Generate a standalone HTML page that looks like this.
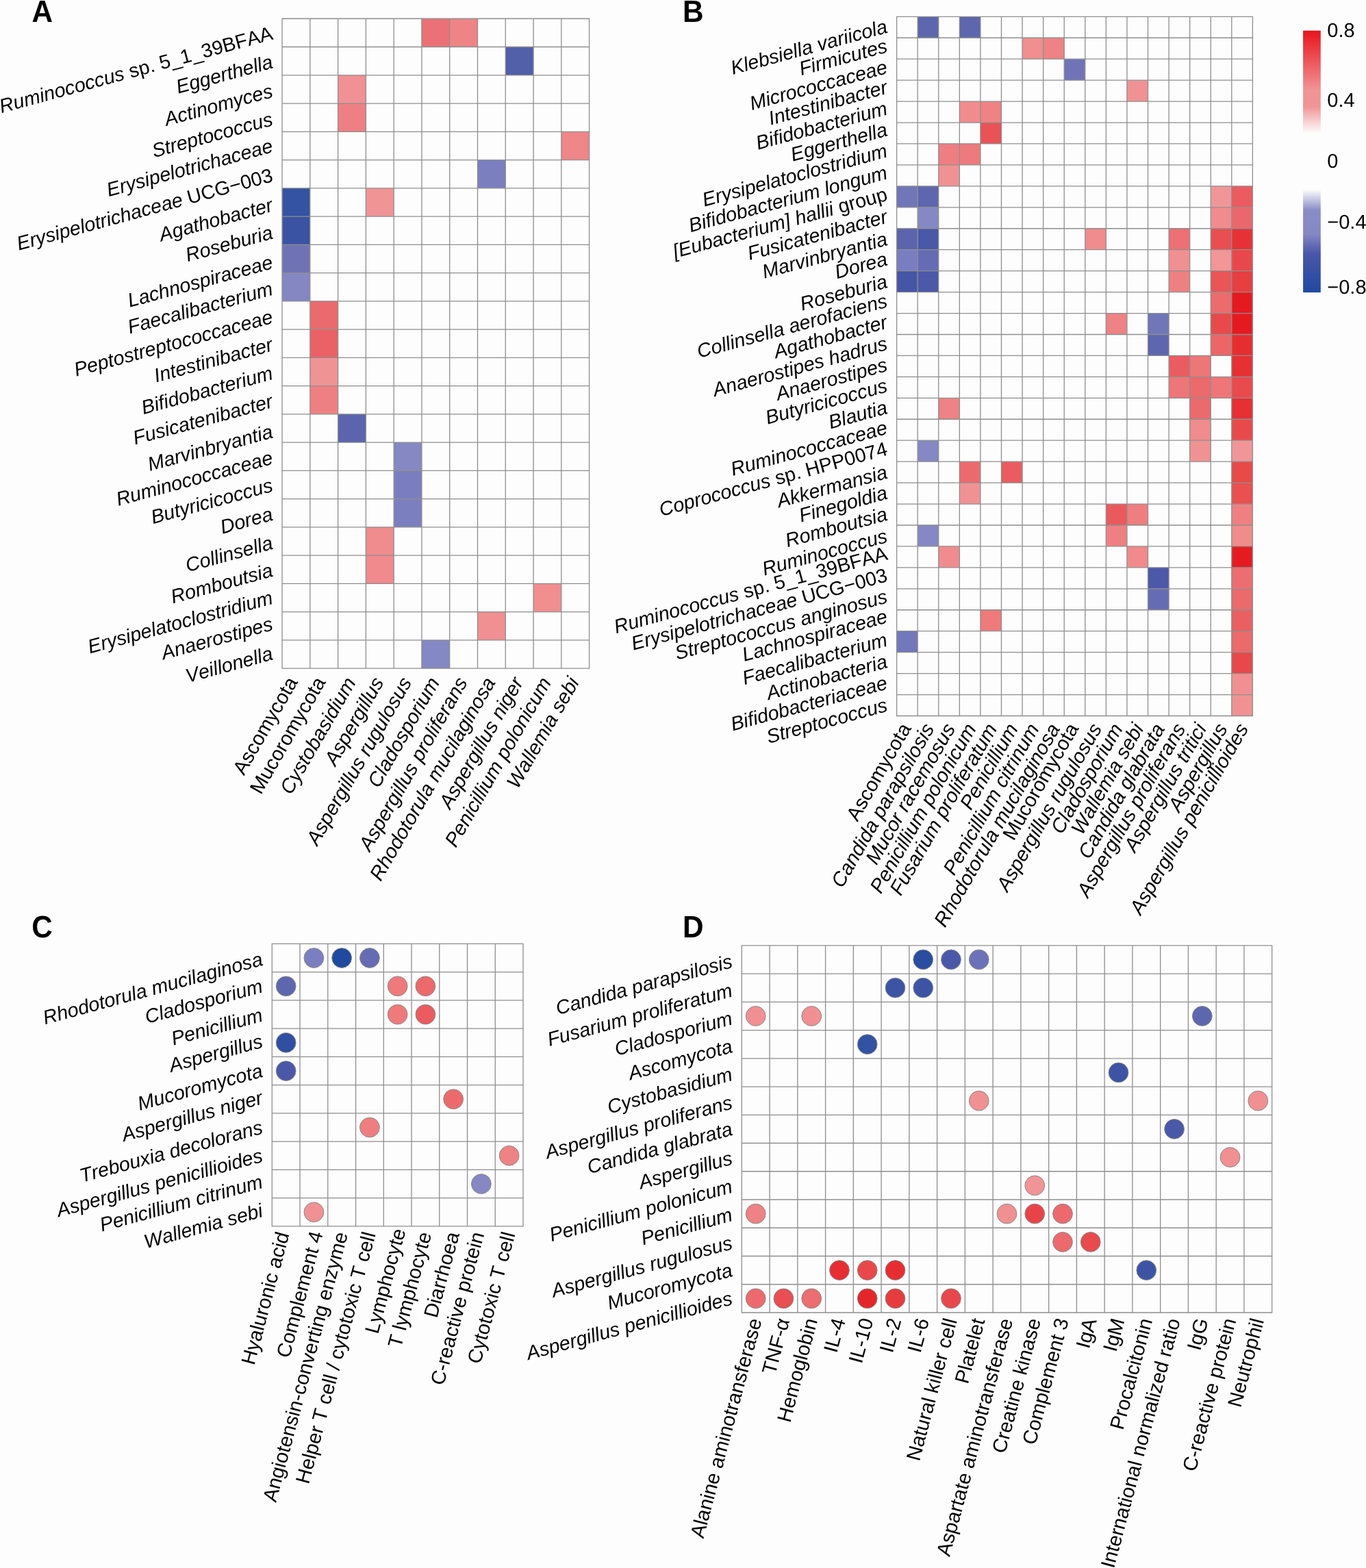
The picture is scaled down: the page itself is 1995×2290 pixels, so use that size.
<!DOCTYPE html>
<html lang="en">
<head>
<meta charset="utf-8">
<title>Correlation heatmaps between gut bacteria, fungi and clinical indices</title>
<style>
html,body{margin:0;padding:0;background:#fdfdfd;}
body{width:1995px;height:2290px;overflow:hidden;}
svg{display:block;}
svg text{font-family:"Liberation Sans",Arial,Helvetica,sans-serif;fill:#000;font-kerning:none;text-rendering:geometricPrecision;}
</style>
</head>
<body>
<svg xmlns="http://www.w3.org/2000/svg" width="1995" height="2290" viewBox="0 0 1995 2290">
<rect x="0" y="0" width="1995" height="2290" fill="#fdfdfd"/>
<g id="panel-A">
<rect x="615.94" y="27.26" width="40.78" height="41.26" fill="#ec7176"/>
<rect x="656.71" y="27.26" width="40.78" height="41.26" fill="#ef8486"/>
<rect x="738.27" y="68.52" width="40.78" height="41.26" fill="#525fa9"/>
<rect x="493.60" y="109.78" width="40.78" height="41.26" fill="#f09193"/>
<rect x="493.60" y="151.03" width="40.78" height="41.26" fill="#ee8083"/>
<rect x="819.82" y="192.29" width="40.78" height="41.26" fill="#ef8688"/>
<rect x="697.49" y="233.55" width="40.78" height="41.26" fill="#7b7fc0"/>
<rect x="412.05" y="274.81" width="40.78" height="41.26" fill="#3553a3"/>
<rect x="534.38" y="274.81" width="40.78" height="41.26" fill="#f09496"/>
<rect x="412.05" y="316.07" width="40.78" height="41.26" fill="#3b53a3"/>
<rect x="412.05" y="357.33" width="40.78" height="41.26" fill="#6f73b6"/>
<rect x="412.05" y="398.58" width="40.78" height="41.26" fill="#8487c2"/>
<rect x="452.83" y="439.84" width="40.78" height="41.26" fill="#ea6a6e"/>
<rect x="452.83" y="481.10" width="40.78" height="41.26" fill="#ea6166"/>
<rect x="452.83" y="522.36" width="40.78" height="41.26" fill="#f09395"/>
<rect x="452.83" y="563.62" width="40.78" height="41.26" fill="#ee8083"/>
<rect x="493.60" y="604.88" width="40.78" height="41.26" fill="#5b64ad"/>
<rect x="575.16" y="646.13" width="40.78" height="41.26" fill="#8588c3"/>
<rect x="575.16" y="687.39" width="40.78" height="41.26" fill="#7a7ec0"/>
<rect x="575.16" y="728.65" width="40.78" height="41.26" fill="#7b7fc0"/>
<rect x="534.38" y="769.91" width="40.78" height="41.26" fill="#f08c8e"/>
<rect x="534.38" y="811.17" width="40.78" height="41.26" fill="#f08a8c"/>
<rect x="779.05" y="852.43" width="40.78" height="41.26" fill="#f08e90"/>
<rect x="697.49" y="893.68" width="40.78" height="41.26" fill="#f09092"/>
<rect x="615.94" y="934.94" width="40.78" height="41.26" fill="#8488c4"/>
<path d="M412.05 27.26V976.20M452.83 27.26V976.20M493.60 27.26V976.20M534.38 27.26V976.20M575.16 27.26V976.20M615.94 27.26V976.20M656.71 27.26V976.20M697.49 27.26V976.20M738.27 27.26V976.20M779.05 27.26V976.20M819.82 27.26V976.20M860.60 27.26V976.20M412.05 27.26H860.60M412.05 68.52H860.60M412.05 109.78H860.60M412.05 151.03H860.60M412.05 192.29H860.60M412.05 233.55H860.60M412.05 274.81H860.60M412.05 316.07H860.60M412.05 357.33H860.60M412.05 398.58H860.60M412.05 439.84H860.60M412.05 481.10H860.60M412.05 522.36H860.60M412.05 563.62H860.60M412.05 604.88H860.60M412.05 646.13H860.60M412.05 687.39H860.60M412.05 728.65H860.60M412.05 769.91H860.60M412.05 811.17H860.60M412.05 852.43H860.60M412.05 893.68H860.60M412.05 934.94H860.60M412.05 976.20H860.60" fill="none" stroke="#8e8e8e" stroke-width="1.3" stroke-linecap="square"/>
<text transform="matrix(0.96502 -0.26219 0.26219 0.96502 397.55 47.99)" text-anchor="end" x="0.00" y="9.50" font-size="28.65" xml:space="preserve"><tspan font-style="italic">Ruminococcus</tspan><tspan> sp. 5_1_39BFAA</tspan></text>
<text transform="matrix(0.96502 -0.26219 0.26219 0.96502 397.55 89.65)" text-anchor="end" x="0.00" y="9.50" font-size="28.65" font-style="italic">Eggerthella</text>
<text transform="matrix(0.96502 -0.26219 0.26219 0.96502 397.55 132.21)" text-anchor="end" x="0.00" y="9.50" font-size="28.65" font-style="italic">Actinomyces</text>
<text transform="matrix(0.96502 -0.26219 0.26219 0.96502 397.55 173.46)" text-anchor="end" x="0.00" y="9.50" font-size="28.65" font-style="italic">Streptococcus</text>
<text transform="matrix(0.96502 -0.26219 0.26219 0.96502 397.55 212.52)" text-anchor="end" x="0.00" y="9.50" font-size="28.65" font-style="italic">Erysipelotrichaceae</text>
<text transform="matrix(0.96502 -0.26219 0.26219 0.96502 397.55 255.38)" text-anchor="end" x="0.00" y="9.50" font-size="28.65" xml:space="preserve"><tspan font-style="italic">Erysipelotrichaceae</tspan><tspan> UCG−003</tspan></text>
<text transform="matrix(0.96502 -0.26219 0.26219 0.96502 397.55 298.84)" text-anchor="end" x="0.00" y="9.50" font-size="28.65" font-style="italic">Agathobacter</text>
<text transform="matrix(0.96502 -0.26219 0.26219 0.96502 397.55 338.90)" text-anchor="end" x="0.00" y="9.50" font-size="28.65" font-style="italic">Roseburia</text>
<text transform="matrix(0.96502 -0.26219 0.26219 0.96502 397.55 382.46)" text-anchor="end" x="0.00" y="9.50" font-size="28.65" font-style="italic">Lachnospiraceae</text>
<text transform="matrix(0.96502 -0.26219 0.26219 0.96502 397.55 421.11)" text-anchor="end" x="0.00" y="9.50" font-size="28.65" font-style="italic">Faecalibacterium</text>
<text transform="matrix(0.96502 -0.26219 0.26219 0.96502 397.55 462.17)" text-anchor="end" x="0.00" y="9.50" font-size="28.65" font-style="italic">Peptostreptococcaceae</text>
<text transform="matrix(0.96502 -0.26219 0.26219 0.96502 397.55 502.63)" text-anchor="end" x="0.00" y="9.50" font-size="28.65" font-style="italic">Intestinibacter</text>
<text transform="matrix(0.96502 -0.26219 0.26219 0.96502 397.55 544.29)" text-anchor="end" x="0.00" y="9.50" font-size="28.65" font-style="italic">Bifidobacterium</text>
<text transform="matrix(0.96502 -0.26219 0.26219 0.96502 397.55 585.35)" text-anchor="end" x="0.00" y="9.50" font-size="28.65" font-style="italic">Fusicatenibacter</text>
<text transform="matrix(0.96502 -0.26219 0.26219 0.96502 397.55 629.60)" text-anchor="end" x="0.00" y="9.50" font-size="28.65" font-style="italic">Marvinbryantia</text>
<text transform="matrix(0.96502 -0.26219 0.26219 0.96502 397.55 667.96)" text-anchor="end" x="0.00" y="9.50" font-size="28.65" font-style="italic">Ruminococcaceae</text>
<text transform="matrix(0.96502 -0.26219 0.26219 0.96502 397.55 708.02)" text-anchor="end" x="0.00" y="9.50" font-size="28.65" font-style="italic">Butyricicoccus</text>
<text transform="matrix(0.96502 -0.26219 0.26219 0.96502 397.55 750.08)" text-anchor="end" x="0.00" y="9.50" font-size="28.65" font-style="italic">Dorea</text>
<text transform="matrix(0.96502 -0.26219 0.26219 0.96502 397.55 792.14)" text-anchor="end" x="0.00" y="9.50" font-size="28.65" font-style="italic">Collinsella</text>
<text transform="matrix(0.96502 -0.26219 0.26219 0.96502 397.55 832.20)" text-anchor="end" x="0.00" y="9.50" font-size="28.65" font-style="italic">Romboutsia</text>
<text transform="matrix(0.96502 -0.26219 0.26219 0.96502 397.55 872.25)" text-anchor="end" x="0.00" y="9.50" font-size="28.65" font-style="italic">Erysipelatoclostridium</text>
<text transform="matrix(0.96502 -0.26219 0.26219 0.96502 397.55 910.51)" text-anchor="end" x="0.00" y="9.50" font-size="28.65" font-style="italic">Anaerostipes</text>
<text transform="matrix(0.96502 -0.26219 0.26219 0.96502 397.55 953.77)" text-anchor="end" x="0.00" y="9.50" font-size="28.65" font-style="italic">Veillonella</text>
<text transform="matrix(0.50000 -0.86603 0.86603 0.50000 427.44 991.20)" text-anchor="end" x="0.00" y="9.50" font-size="29.15">Ascomycota</text>
<text transform="matrix(0.50000 -0.86603 0.86603 0.50000 468.22 991.20)" text-anchor="end" x="0.00" y="9.50" font-size="29.15">Mucoromycota</text>
<text transform="matrix(0.50000 -0.86603 0.86603 0.50000 512.29 991.70)" text-anchor="end" x="0.00" y="9.50" font-size="29.15" font-style="italic">Cystobasidium</text>
<text transform="matrix(0.50000 -0.86603 0.86603 0.50000 553.07 991.70)" text-anchor="end" x="0.00" y="9.50" font-size="29.15" font-style="italic">Aspergillus</text>
<text transform="matrix(0.50000 -0.86603 0.86603 0.50000 593.85 991.70)" text-anchor="end" x="0.00" y="9.50" font-size="29.15" font-style="italic">Aspergillus rugulosus</text>
<text transform="matrix(0.50000 -0.86603 0.86603 0.50000 634.62 991.70)" text-anchor="end" x="0.00" y="9.50" font-size="29.15" font-style="italic">Cladosporium</text>
<text transform="matrix(0.50000 -0.86603 0.86603 0.50000 675.40 991.70)" text-anchor="end" x="0.00" y="9.50" font-size="29.15" font-style="italic">Aspergillus proliferans</text>
<text transform="matrix(0.50000 -0.86603 0.86603 0.50000 716.18 991.70)" text-anchor="end" x="0.00" y="9.50" font-size="29.15" font-style="italic">Rhodotorula mucilaginosa</text>
<text transform="matrix(0.50000 -0.86603 0.86603 0.50000 756.96 991.70)" text-anchor="end" x="0.00" y="9.50" font-size="29.15" font-style="italic">Aspergillus niger</text>
<text transform="matrix(0.50000 -0.86603 0.86603 0.50000 797.73 991.70)" text-anchor="end" x="0.00" y="9.50" font-size="29.15" font-style="italic">Penicillium polonicum</text>
<text transform="matrix(0.50000 -0.86603 0.86603 0.50000 838.51 991.70)" text-anchor="end" x="0.00" y="9.50" font-size="29.15" font-style="italic">Wallemia sebi</text>
</g>
<g id="panel-B">
<rect x="1340.18" y="24.30" width="30.58" height="30.95" fill="#5e66ae"/>
<rect x="1401.33" y="24.30" width="30.58" height="30.95" fill="#5e66ae"/>
<rect x="1493.06" y="55.25" width="30.58" height="30.95" fill="#f08e90"/>
<rect x="1523.64" y="55.25" width="30.58" height="30.95" fill="#ee8284"/>
<rect x="1554.21" y="86.19" width="30.58" height="30.95" fill="#6f74b8"/>
<rect x="1645.94" y="117.14" width="30.58" height="30.95" fill="#f09294"/>
<rect x="1401.33" y="148.08" width="30.58" height="30.95" fill="#f08c8e"/>
<rect x="1431.91" y="148.08" width="30.58" height="30.95" fill="#ee8284"/>
<rect x="1431.91" y="179.03" width="30.58" height="30.95" fill="#e95256"/>
<rect x="1370.75" y="209.97" width="30.58" height="30.95" fill="#ee7e81"/>
<rect x="1401.33" y="209.97" width="30.58" height="30.95" fill="#ed7a7d"/>
<rect x="1370.75" y="240.92" width="30.58" height="30.95" fill="#f09294"/>
<rect x="1309.60" y="271.86" width="30.58" height="30.95" fill="#7176b8"/>
<rect x="1340.18" y="271.86" width="30.58" height="30.95" fill="#5e66ae"/>
<rect x="1768.25" y="271.86" width="30.58" height="30.95" fill="#f19698"/>
<rect x="1798.82" y="271.86" width="30.58" height="30.95" fill="#ea5c60"/>
<rect x="1340.18" y="302.81" width="30.58" height="30.95" fill="#8588c3"/>
<rect x="1768.25" y="302.81" width="30.58" height="30.95" fill="#f08c8e"/>
<rect x="1798.82" y="302.81" width="30.58" height="30.95" fill="#ea686c"/>
<rect x="1309.60" y="333.75" width="30.58" height="30.95" fill="#5c64ae"/>
<rect x="1340.18" y="333.75" width="30.58" height="30.95" fill="#4a58a8"/>
<rect x="1584.79" y="333.75" width="30.58" height="30.95" fill="#f08c8e"/>
<rect x="1707.09" y="333.75" width="30.58" height="30.95" fill="#ec7074"/>
<rect x="1768.25" y="333.75" width="30.58" height="30.95" fill="#e94e52"/>
<rect x="1798.82" y="333.75" width="30.58" height="30.95" fill="#e63236"/>
<rect x="1309.60" y="364.70" width="30.58" height="30.95" fill="#7a7ec0"/>
<rect x="1340.18" y="364.70" width="30.58" height="30.95" fill="#666cb4"/>
<rect x="1707.09" y="364.70" width="30.58" height="30.95" fill="#f09092"/>
<rect x="1768.25" y="364.70" width="30.58" height="30.95" fill="#f29698"/>
<rect x="1798.82" y="364.70" width="30.58" height="30.95" fill="#e8484c"/>
<rect x="1309.60" y="395.65" width="30.58" height="30.95" fill="#4556a6"/>
<rect x="1340.18" y="395.65" width="30.58" height="30.95" fill="#4c58a8"/>
<rect x="1707.09" y="395.65" width="30.58" height="30.95" fill="#ee8082"/>
<rect x="1768.25" y="395.65" width="30.58" height="30.95" fill="#ea5558"/>
<rect x="1798.82" y="395.65" width="30.58" height="30.95" fill="#e73e40"/>
<rect x="1768.25" y="426.59" width="30.58" height="30.95" fill="#ec6c6e"/>
<rect x="1798.82" y="426.59" width="30.58" height="30.95" fill="#e41a20"/>
<rect x="1615.36" y="457.54" width="30.58" height="30.95" fill="#ee8284"/>
<rect x="1676.52" y="457.54" width="30.58" height="30.95" fill="#7176b8"/>
<rect x="1768.25" y="457.54" width="30.58" height="30.95" fill="#e84a4c"/>
<rect x="1798.82" y="457.54" width="30.58" height="30.95" fill="#e41a20"/>
<rect x="1676.52" y="488.48" width="30.58" height="30.95" fill="#5e66ae"/>
<rect x="1768.25" y="488.48" width="30.58" height="30.95" fill="#ec6668"/>
<rect x="1798.82" y="488.48" width="30.58" height="30.95" fill="#e62e30"/>
<rect x="1707.09" y="519.43" width="30.58" height="30.95" fill="#ea5c60"/>
<rect x="1737.67" y="519.43" width="30.58" height="30.95" fill="#ed7678"/>
<rect x="1798.82" y="519.43" width="30.58" height="30.95" fill="#e63034"/>
<rect x="1707.09" y="550.37" width="30.58" height="30.95" fill="#ed7678"/>
<rect x="1737.67" y="550.37" width="30.58" height="30.95" fill="#eb6a6c"/>
<rect x="1768.25" y="550.37" width="30.58" height="30.95" fill="#ee7678"/>
<rect x="1798.82" y="550.37" width="30.58" height="30.95" fill="#e84a4e"/>
<rect x="1370.75" y="581.32" width="30.58" height="30.95" fill="#ee8284"/>
<rect x="1737.67" y="581.32" width="30.58" height="30.95" fill="#eb6a6c"/>
<rect x="1798.82" y="581.32" width="30.58" height="30.95" fill="#e63034"/>
<rect x="1737.67" y="612.26" width="30.58" height="30.95" fill="#f08c8e"/>
<rect x="1798.82" y="612.26" width="30.58" height="30.95" fill="#e84a4c"/>
<rect x="1340.18" y="643.21" width="30.58" height="30.95" fill="#8588c3"/>
<rect x="1737.67" y="643.21" width="30.58" height="30.95" fill="#f09294"/>
<rect x="1798.82" y="643.21" width="30.58" height="30.95" fill="#f19698"/>
<rect x="1401.33" y="674.15" width="30.58" height="30.95" fill="#ec6a6e"/>
<rect x="1462.48" y="674.15" width="30.58" height="30.95" fill="#ea5c60"/>
<rect x="1798.82" y="674.15" width="30.58" height="30.95" fill="#e84a48"/>
<rect x="1401.33" y="705.10" width="30.58" height="30.95" fill="#f09294"/>
<rect x="1798.82" y="705.10" width="30.58" height="30.95" fill="#e9504f"/>
<rect x="1615.36" y="736.05" width="30.58" height="30.95" fill="#ea5a5c"/>
<rect x="1645.94" y="736.05" width="30.58" height="30.95" fill="#ee7e80"/>
<rect x="1798.82" y="736.05" width="30.58" height="30.95" fill="#ee8082"/>
<rect x="1340.18" y="766.99" width="30.58" height="30.95" fill="#8588c3"/>
<rect x="1615.36" y="766.99" width="30.58" height="30.95" fill="#ee8082"/>
<rect x="1798.82" y="766.99" width="30.58" height="30.95" fill="#f08c8c"/>
<rect x="1370.75" y="797.94" width="30.58" height="30.95" fill="#f08c8e"/>
<rect x="1645.94" y="797.94" width="30.58" height="30.95" fill="#f08a8c"/>
<rect x="1798.82" y="797.94" width="30.58" height="30.95" fill="#e41c22"/>
<rect x="1676.52" y="828.88" width="30.58" height="30.95" fill="#4c58a8"/>
<rect x="1798.82" y="828.88" width="30.58" height="30.95" fill="#ec6e70"/>
<rect x="1676.52" y="859.83" width="30.58" height="30.95" fill="#666cb4"/>
<rect x="1798.82" y="859.83" width="30.58" height="30.95" fill="#eb6a6c"/>
<rect x="1431.91" y="890.77" width="30.58" height="30.95" fill="#ee7a7c"/>
<rect x="1798.82" y="890.77" width="30.58" height="30.95" fill="#ea6062"/>
<rect x="1309.60" y="921.72" width="30.58" height="30.95" fill="#7378ba"/>
<rect x="1798.82" y="921.72" width="30.58" height="30.95" fill="#eb6a6c"/>
<rect x="1798.82" y="952.66" width="30.58" height="30.95" fill="#e8484a"/>
<rect x="1798.82" y="983.61" width="30.58" height="30.95" fill="#f09092"/>
<rect x="1798.82" y="1014.55" width="30.58" height="30.95" fill="#f09294"/>
<path d="M1309.60 24.30V1045.50M1340.18 24.30V1045.50M1370.75 24.30V1045.50M1401.33 24.30V1045.50M1431.91 24.30V1045.50M1462.48 24.30V1045.50M1493.06 24.30V1045.50M1523.64 24.30V1045.50M1554.21 24.30V1045.50M1584.79 24.30V1045.50M1615.36 24.30V1045.50M1645.94 24.30V1045.50M1676.52 24.30V1045.50M1707.09 24.30V1045.50M1737.67 24.30V1045.50M1768.25 24.30V1045.50M1798.82 24.30V1045.50M1829.40 24.30V1045.50M1309.60 24.30H1829.40M1309.60 55.25H1829.40M1309.60 86.19H1829.40M1309.60 117.14H1829.40M1309.60 148.08H1829.40M1309.60 179.03H1829.40M1309.60 209.97H1829.40M1309.60 240.92H1829.40M1309.60 271.86H1829.40M1309.60 302.81H1829.40M1309.60 333.75H1829.40M1309.60 364.70H1829.40M1309.60 395.65H1829.40M1309.60 426.59H1829.40M1309.60 457.54H1829.40M1309.60 488.48H1829.40M1309.60 519.43H1829.40M1309.60 550.37H1829.40M1309.60 581.32H1829.40M1309.60 612.26H1829.40M1309.60 643.21H1829.40M1309.60 674.15H1829.40M1309.60 705.10H1829.40M1309.60 736.05H1829.40M1309.60 766.99H1829.40M1309.60 797.94H1829.40M1309.60 828.88H1829.40M1309.60 859.83H1829.40M1309.60 890.77H1829.40M1309.60 921.72H1829.40M1309.60 952.66H1829.40M1309.60 983.61H1829.40M1309.60 1014.55H1829.40M1309.60 1045.50H1829.40" fill="none" stroke="#8e8e8e" stroke-width="1.3" stroke-linecap="square"/>
<text transform="matrix(0.96502 -0.26219 0.26219 0.96502 1295.10 38.07)" text-anchor="end" x="0.00" y="9.50" font-size="28.65" font-style="italic">Klebsiella variicola</text>
<text transform="matrix(0.96502 -0.26219 0.26219 0.96502 1295.10 66.52)" text-anchor="end" x="0.00" y="9.50" font-size="28.65" font-style="italic">Firmicutes</text>
<text transform="matrix(0.96502 -0.26219 0.26219 0.96502 1295.10 97.46)" text-anchor="end" x="0.00" y="9.50" font-size="28.65" font-style="italic">Micrococcaceae</text>
<text transform="matrix(0.96502 -0.26219 0.26219 0.96502 1295.10 126.81)" text-anchor="end" x="0.00" y="9.50" font-size="28.65" font-style="italic">Intestinibacter</text>
<text transform="matrix(0.96502 -0.26219 0.26219 0.96502 1295.10 157.75)" text-anchor="end" x="0.00" y="9.50" font-size="28.65" font-style="italic">Bifidobacterium</text>
<text transform="matrix(0.96502 -0.26219 0.26219 0.96502 1295.10 188.70)" text-anchor="end" x="0.00" y="9.50" font-size="28.65" font-style="italic">Eggerthella</text>
<text transform="matrix(0.96502 -0.26219 0.26219 0.96502 1295.10 219.65)" text-anchor="end" x="0.00" y="9.50" font-size="28.65" font-style="italic">Erysipelatoclostridium</text>
<text transform="matrix(0.96502 -0.26219 0.26219 0.96502 1295.10 251.59)" text-anchor="end" x="0.00" y="9.50" font-size="28.65" font-style="italic">Bifidobacterium longum</text>
<text transform="matrix(0.96502 -0.26219 0.26219 0.96502 1295.10 283.14)" text-anchor="end" x="0.00" y="9.50" font-size="28.65" xml:space="preserve"><tspan font-style="italic">[Eubacterium] hallii</tspan><tspan> group</tspan></text>
<text transform="matrix(0.96502 -0.26219 0.26219 0.96502 1295.10 315.78)" text-anchor="end" x="0.00" y="9.50" font-size="28.65" font-style="italic">Fusicatenibacter</text>
<text transform="matrix(0.96502 -0.26219 0.26219 0.96502 1295.10 348.43)" text-anchor="end" x="0.00" y="9.50" font-size="28.65" font-style="italic">Marvinbryantia</text>
<text transform="matrix(0.96502 -0.26219 0.26219 0.96502 1295.10 377.67)" text-anchor="end" x="0.00" y="9.50" font-size="28.65" font-style="italic">Dorea</text>
<text transform="matrix(0.96502 -0.26219 0.26219 0.96502 1295.10 410.32)" text-anchor="end" x="0.00" y="9.50" font-size="28.65" font-style="italic">Roseburia</text>
<text transform="matrix(0.96502 -0.26219 0.26219 0.96502 1295.10 438.76)" text-anchor="end" x="0.00" y="9.50" font-size="28.65" font-style="italic">Collinsella aerofaciens</text>
<text transform="matrix(0.96502 -0.26219 0.26219 0.96502 1295.10 469.71)" text-anchor="end" x="0.00" y="9.50" font-size="28.65" font-style="italic">Agathobacter</text>
<text transform="matrix(0.96502 -0.26219 0.26219 0.96502 1295.10 501.15)" text-anchor="end" x="0.00" y="9.50" font-size="28.65" font-style="italic">Anaerostipes hadrus</text>
<text transform="matrix(0.96502 -0.26219 0.26219 0.96502 1295.10 532.10)" text-anchor="end" x="0.00" y="9.50" font-size="28.65" font-style="italic">Anaerostipes</text>
<text transform="matrix(0.96502 -0.26219 0.26219 0.96502 1295.10 562.55)" text-anchor="end" x="0.00" y="9.50" font-size="28.65" font-style="italic">Butyricicoccus</text>
<text transform="matrix(0.96502 -0.26219 0.26219 0.96502 1295.10 594.29)" text-anchor="end" x="0.00" y="9.50" font-size="28.65" font-style="italic">Blautia</text>
<text transform="matrix(0.96502 -0.26219 0.26219 0.96502 1295.10 623.94)" text-anchor="end" x="0.00" y="9.50" font-size="28.65" font-style="italic">Ruminococcaceae</text>
<text transform="matrix(0.96502 -0.26219 0.26219 0.96502 1295.10 654.88)" text-anchor="end" x="0.00" y="9.50" font-size="28.65" xml:space="preserve"><tspan font-style="italic">Coprococcus</tspan><tspan> sp. HPP0074</tspan></text>
<text transform="matrix(0.96502 -0.26219 0.26219 0.96502 1295.10 688.93)" text-anchor="end" x="0.00" y="9.50" font-size="28.65" font-style="italic">Akkermansia</text>
<text transform="matrix(0.96502 -0.26219 0.26219 0.96502 1295.10 718.97)" text-anchor="end" x="0.00" y="9.50" font-size="28.65" font-style="italic">Finegoldia</text>
<text transform="matrix(0.96502 -0.26219 0.26219 0.96502 1295.10 750.12)" text-anchor="end" x="0.00" y="9.50" font-size="28.65" font-style="italic">Romboutsia</text>
<text transform="matrix(0.96502 -0.26219 0.26219 0.96502 1295.10 782.26)" text-anchor="end" x="0.00" y="9.50" font-size="28.65" font-style="italic">Ruminococcus</text>
<text transform="matrix(0.96502 -0.26219 0.26219 0.96502 1295.10 807.86)" text-anchor="end" x="0.00" y="9.50" font-size="28.65" xml:space="preserve"><tspan font-style="italic">Ruminococcus</tspan><tspan> sp. 5_1_39BFAA</tspan></text>
<text transform="matrix(0.96502 -0.26219 0.26219 0.96502 1295.10 839.45)" text-anchor="end" x="0.00" y="9.50" font-size="28.65" xml:space="preserve"><tspan font-style="italic">Erysipelotrichaceae</tspan><tspan> UCG−003</tspan></text>
<text transform="matrix(0.96502 -0.26219 0.26219 0.96502 1295.10 870.60)" text-anchor="end" x="0.00" y="9.50" font-size="28.65" font-style="italic">Streptococcus anginosus</text>
<text transform="matrix(0.96502 -0.26219 0.26219 0.96502 1295.10 899.75)" text-anchor="end" x="0.00" y="9.50" font-size="28.65" font-style="italic">Lachnospiraceae</text>
<text transform="matrix(0.96502 -0.26219 0.26219 0.96502 1295.10 933.79)" text-anchor="end" x="0.00" y="9.50" font-size="28.65" font-style="italic">Faecalibacterium</text>
<text transform="matrix(0.96502 -0.26219 0.26219 0.96502 1295.10 965.44)" text-anchor="end" x="0.00" y="9.50" font-size="28.65" font-style="italic">Actinobacteria</text>
<text transform="matrix(0.96502 -0.26219 0.26219 0.96502 1295.10 996.58)" text-anchor="end" x="0.00" y="9.50" font-size="28.65" font-style="italic">Bifidobacteriaceae</text>
<text transform="matrix(0.96502 -0.26219 0.26219 0.96502 1295.10 1029.13)" text-anchor="end" x="0.00" y="9.50" font-size="28.65" font-style="italic">Streptococcus</text>
<text transform="matrix(0.50000 -0.86603 0.86603 0.50000 1323.29 1058.70)" text-anchor="end" x="0.00" y="9.50" font-size="29.15">Ascomycota</text>
<text transform="matrix(0.50000 -0.86603 0.86603 0.50000 1357.16 1059.20)" text-anchor="end" x="0.00" y="9.50" font-size="29.15" font-style="italic">Candida parapsilosis</text>
<text transform="matrix(0.50000 -0.86603 0.86603 0.50000 1387.74 1059.20)" text-anchor="end" x="0.00" y="9.50" font-size="29.15" font-style="italic">Mucor racemosus</text>
<text transform="matrix(0.50000 -0.86603 0.86603 0.50000 1418.32 1059.20)" text-anchor="end" x="0.00" y="9.50" font-size="29.15" font-style="italic">Penicillium polonicum</text>
<text transform="matrix(0.50000 -0.86603 0.86603 0.50000 1448.89 1059.20)" text-anchor="end" x="0.00" y="9.50" font-size="29.15" font-style="italic">Fusarium proliferatum</text>
<text transform="matrix(0.50000 -0.86603 0.86603 0.50000 1479.47 1059.20)" text-anchor="end" x="0.00" y="9.50" font-size="29.15" font-style="italic">Penicillium</text>
<text transform="matrix(0.50000 -0.86603 0.86603 0.50000 1510.05 1059.20)" text-anchor="end" x="0.00" y="9.50" font-size="29.15" font-style="italic">Penicillium citrinum</text>
<text transform="matrix(0.50000 -0.86603 0.86603 0.50000 1540.62 1059.20)" text-anchor="end" x="0.00" y="9.50" font-size="29.15" font-style="italic">Rhodotorula mucilaginosa</text>
<text transform="matrix(0.50000 -0.86603 0.86603 0.50000 1567.90 1058.70)" text-anchor="end" x="0.00" y="9.50" font-size="29.15">Mucoromycota</text>
<text transform="matrix(0.50000 -0.86603 0.86603 0.50000 1601.78 1059.20)" text-anchor="end" x="0.00" y="9.50" font-size="29.15" font-style="italic">Aspergillus rugulosus</text>
<text transform="matrix(0.50000 -0.86603 0.86603 0.50000 1632.35 1059.20)" text-anchor="end" x="0.00" y="9.50" font-size="29.15" font-style="italic">Cladosporium</text>
<text transform="matrix(0.50000 -0.86603 0.86603 0.50000 1662.93 1059.20)" text-anchor="end" x="0.00" y="9.50" font-size="29.15" font-style="italic">Wallemia sebi</text>
<text transform="matrix(0.50000 -0.86603 0.86603 0.50000 1693.51 1059.20)" text-anchor="end" x="0.00" y="9.50" font-size="29.15" font-style="italic">Candida glabrata</text>
<text transform="matrix(0.50000 -0.86603 0.86603 0.50000 1724.08 1059.20)" text-anchor="end" x="0.00" y="9.50" font-size="29.15" font-style="italic">Aspergillus proliferans</text>
<text transform="matrix(0.50000 -0.86603 0.86603 0.50000 1754.66 1059.20)" text-anchor="end" x="0.00" y="9.50" font-size="29.15" font-style="italic">Aspergillus tritici</text>
<text transform="matrix(0.50000 -0.86603 0.86603 0.50000 1785.24 1059.20)" text-anchor="end" x="0.00" y="9.50" font-size="29.15" font-style="italic">Aspergillus</text>
<text transform="matrix(0.50000 -0.86603 0.86603 0.50000 1815.81 1059.20)" text-anchor="end" x="0.00" y="9.50" font-size="29.15" font-style="italic">Aspergillus penicillioides</text>
</g>
<g id="panel-C">
<path d="M397.30 1378.40V1790.90M438.04 1378.40V1790.90M478.79 1378.40V1790.90M519.53 1378.40V1790.90M560.28 1378.40V1790.90M601.02 1378.40V1790.90M641.77 1378.40V1790.90M682.51 1378.40V1790.90M723.26 1378.40V1790.90M764.00 1378.40V1790.90M397.30 1378.40H764.00M397.30 1419.65H764.00M397.30 1460.90H764.00M397.30 1502.15H764.00M397.30 1543.40H764.00M397.30 1584.65H764.00M397.30 1625.90H764.00M397.30 1667.15H764.00M397.30 1708.40H764.00M397.30 1749.65H764.00M397.30 1790.90H764.00" fill="none" stroke="#8e8e8e" stroke-width="1.3" stroke-linecap="square"/>
<circle cx="458.42" cy="1399.03" r="14.4" fill="#7b7fc0" stroke="#8a8a8a" stroke-width="1"/>
<circle cx="499.16" cy="1399.03" r="14.4" fill="#1f4a9f" stroke="#8a8a8a" stroke-width="1"/>
<circle cx="539.91" cy="1399.03" r="14.4" fill="#666cb4" stroke="#8a8a8a" stroke-width="1"/>
<circle cx="417.67" cy="1440.28" r="14.4" fill="#5e66ae" stroke="#8a8a8a" stroke-width="1"/>
<circle cx="580.65" cy="1440.28" r="14.4" fill="#ee7a7c" stroke="#8a8a8a" stroke-width="1"/>
<circle cx="621.39" cy="1440.28" r="14.4" fill="#ec6a6c" stroke="#8a8a8a" stroke-width="1"/>
<circle cx="580.65" cy="1481.53" r="14.4" fill="#ee7a7c" stroke="#8a8a8a" stroke-width="1"/>
<circle cx="621.39" cy="1481.53" r="14.4" fill="#ea5c60" stroke="#8a8a8a" stroke-width="1"/>
<circle cx="417.67" cy="1522.78" r="14.4" fill="#2f4fa2" stroke="#8a8a8a" stroke-width="1"/>
<circle cx="417.67" cy="1564.03" r="14.4" fill="#4a58a8" stroke="#8a8a8a" stroke-width="1"/>
<circle cx="662.14" cy="1605.28" r="14.4" fill="#ec6a6c" stroke="#8a8a8a" stroke-width="1"/>
<circle cx="539.91" cy="1646.53" r="14.4" fill="#ee7e80" stroke="#8a8a8a" stroke-width="1"/>
<circle cx="743.63" cy="1687.78" r="14.4" fill="#ee8284" stroke="#8a8a8a" stroke-width="1"/>
<circle cx="702.88" cy="1729.03" r="14.4" fill="#8588c3" stroke="#8a8a8a" stroke-width="1"/>
<circle cx="458.42" cy="1770.28" r="14.4" fill="#f09294" stroke="#8a8a8a" stroke-width="1"/>
<text transform="matrix(0.96502 -0.26219 0.26219 0.96502 382.80 1400.23)" text-anchor="end" x="0.00" y="9.50" font-size="28.65" font-style="italic">Rhodotorula mucilaginosa</text>
<text transform="matrix(0.96502 -0.26219 0.26219 0.96502 382.80 1439.48)" text-anchor="end" x="0.00" y="9.50" font-size="28.65" font-style="italic">Cladosporium</text>
<text transform="matrix(0.96502 -0.26219 0.26219 0.96502 382.80 1481.73)" text-anchor="end" x="0.00" y="9.50" font-size="28.65" font-style="italic">Penicillium</text>
<text transform="matrix(0.96502 -0.26219 0.26219 0.96502 382.80 1519.98)" text-anchor="end" x="0.00" y="9.50" font-size="28.65" font-style="italic">Aspergillus</text>
<text transform="matrix(0.96502 -0.26219 0.26219 0.96502 382.80 1563.23)" text-anchor="end" x="0.00" y="9.50" font-size="28.65" font-style="italic">Mucoromycota</text>
<text transform="matrix(0.96502 -0.26219 0.26219 0.96502 382.80 1602.48)" text-anchor="end" x="0.00" y="9.50" font-size="28.65" font-style="italic">Aspergillus niger</text>
<text transform="matrix(0.96502 -0.26219 0.26219 0.96502 382.80 1645.73)" text-anchor="end" x="0.00" y="9.50" font-size="28.65" font-style="italic">Trebouxia decolorans</text>
<text transform="matrix(0.96502 -0.26219 0.26219 0.96502 382.80 1686.98)" text-anchor="end" x="0.00" y="9.50" font-size="28.65" font-style="italic">Aspergillus penicillioides</text>
<text transform="matrix(0.96502 -0.26219 0.26219 0.96502 382.80 1725.23)" text-anchor="end" x="0.00" y="9.50" font-size="28.65" font-style="italic">Penicillium citrinum</text>
<text transform="matrix(0.96502 -0.26219 0.26219 0.96502 382.80 1767.48)" text-anchor="end" x="0.00" y="9.50" font-size="28.65" font-style="italic">Wallemia sebi</text>
<text transform="matrix(0.25882 -0.96593 0.96593 0.25882 413.57 1799.90)" text-anchor="end" x="0.00" y="9.50" font-size="29.15">Hyaluronic acid</text>
<text transform="matrix(0.25882 -0.96593 0.96593 0.25882 462.72 1798.90)" text-anchor="end" x="0.00" y="9.50" font-size="29.15">Complement 4</text>
<text transform="matrix(0.25882 -0.96593 0.96593 0.25882 498.96 1799.90)" text-anchor="end" x="0.00" y="9.50" font-size="29.15">Angiotensin-converting enzyme</text>
<text transform="matrix(0.25882 -0.96593 0.96593 0.25882 539.71 1799.90)" text-anchor="end" x="0.00" y="9.50" font-size="29.15">Helper T cell / cytotoxic T cell</text>
<text transform="matrix(0.25882 -0.96593 0.96593 0.25882 583.45 1794.90)" text-anchor="end" x="0.00" y="9.50" font-size="29.15">Lymphocyte</text>
<text transform="matrix(0.25882 -0.96593 0.96593 0.25882 621.19 1799.90)" text-anchor="end" x="0.00" y="9.50" font-size="29.15">T lymphocyte</text>
<text transform="matrix(0.25882 -0.96593 0.96593 0.25882 661.94 1799.90)" text-anchor="end" x="0.00" y="9.50" font-size="29.15">Diarrhoea</text>
<text transform="matrix(0.25882 -0.96593 0.96593 0.25882 698.18 1799.90)" text-anchor="end" x="0.00" y="9.50" font-size="29.15">C-reactive protein</text>
<text transform="matrix(0.25882 -0.96593 0.96593 0.25882 743.43 1799.90)" text-anchor="end" x="0.00" y="9.50" font-size="29.15">Cytotoxic T cell</text>
</g>
<g id="panel-D">
<path d="M1083.30 1380.80V1917.00M1124.06 1380.80V1917.00M1164.82 1380.80V1917.00M1205.57 1380.80V1917.00M1246.33 1380.80V1917.00M1287.09 1380.80V1917.00M1327.85 1380.80V1917.00M1368.61 1380.80V1917.00M1409.36 1380.80V1917.00M1450.12 1380.80V1917.00M1490.88 1380.80V1917.00M1531.64 1380.80V1917.00M1572.39 1380.80V1917.00M1613.15 1380.80V1917.00M1653.91 1380.80V1917.00M1694.67 1380.80V1917.00M1735.43 1380.80V1917.00M1776.18 1380.80V1917.00M1816.94 1380.80V1917.00M1857.70 1380.80V1917.00M1083.30 1380.80H1857.70M1083.30 1422.05H1857.70M1083.30 1463.29H1857.70M1083.30 1504.54H1857.70M1083.30 1545.78H1857.70M1083.30 1587.03H1857.70M1083.30 1628.28H1857.70M1083.30 1669.52H1857.70M1083.30 1710.77H1857.70M1083.30 1752.02H1857.70M1083.30 1793.26H1857.70M1083.30 1834.51H1857.70M1083.30 1875.75H1857.70M1083.30 1917.00H1857.70" fill="none" stroke="#8e8e8e" stroke-width="1.3" stroke-linecap="square"/>
<circle cx="1348.23" cy="1401.42" r="14.4" fill="#2a4da1" stroke="#8a8a8a" stroke-width="1"/>
<circle cx="1388.98" cy="1401.42" r="14.4" fill="#4a58a8" stroke="#8a8a8a" stroke-width="1"/>
<circle cx="1429.74" cy="1401.42" r="14.4" fill="#6c72b8" stroke="#8a8a8a" stroke-width="1"/>
<circle cx="1307.47" cy="1442.67" r="14.4" fill="#3d54a5" stroke="#8a8a8a" stroke-width="1"/>
<circle cx="1348.23" cy="1442.67" r="14.4" fill="#3d54a5" stroke="#8a8a8a" stroke-width="1"/>
<circle cx="1103.68" cy="1483.92" r="14.4" fill="#f09092" stroke="#8a8a8a" stroke-width="1"/>
<circle cx="1185.19" cy="1483.92" r="14.4" fill="#f09092" stroke="#8a8a8a" stroke-width="1"/>
<circle cx="1755.81" cy="1483.92" r="14.4" fill="#5e66ae" stroke="#8a8a8a" stroke-width="1"/>
<circle cx="1266.71" cy="1525.16" r="14.4" fill="#3352a3" stroke="#8a8a8a" stroke-width="1"/>
<circle cx="1633.53" cy="1566.41" r="14.4" fill="#3d54a5" stroke="#8a8a8a" stroke-width="1"/>
<circle cx="1429.74" cy="1607.65" r="14.4" fill="#f09092" stroke="#8a8a8a" stroke-width="1"/>
<circle cx="1837.32" cy="1607.65" r="14.4" fill="#f09092" stroke="#8a8a8a" stroke-width="1"/>
<circle cx="1715.05" cy="1648.90" r="14.4" fill="#4a58a8" stroke="#8a8a8a" stroke-width="1"/>
<circle cx="1796.56" cy="1690.15" r="14.4" fill="#f09092" stroke="#8a8a8a" stroke-width="1"/>
<circle cx="1511.26" cy="1731.39" r="14.4" fill="#f09496" stroke="#8a8a8a" stroke-width="1"/>
<circle cx="1103.68" cy="1772.64" r="14.4" fill="#ee8284" stroke="#8a8a8a" stroke-width="1"/>
<circle cx="1470.50" cy="1772.64" r="14.4" fill="#f09092" stroke="#8a8a8a" stroke-width="1"/>
<circle cx="1511.26" cy="1772.64" r="14.4" fill="#e84448" stroke="#8a8a8a" stroke-width="1"/>
<circle cx="1552.02" cy="1772.64" r="14.4" fill="#ec6a6e" stroke="#8a8a8a" stroke-width="1"/>
<circle cx="1552.02" cy="1813.88" r="14.4" fill="#ec6a6e" stroke="#8a8a8a" stroke-width="1"/>
<circle cx="1592.77" cy="1813.88" r="14.4" fill="#e84a4e" stroke="#8a8a8a" stroke-width="1"/>
<circle cx="1225.95" cy="1855.13" r="14.4" fill="#e62e32" stroke="#8a8a8a" stroke-width="1"/>
<circle cx="1266.71" cy="1855.13" r="14.4" fill="#e8484a" stroke="#8a8a8a" stroke-width="1"/>
<circle cx="1307.47" cy="1855.13" r="14.4" fill="#e62e32" stroke="#8a8a8a" stroke-width="1"/>
<circle cx="1674.29" cy="1855.13" r="14.4" fill="#3d54a5" stroke="#8a8a8a" stroke-width="1"/>
<circle cx="1103.68" cy="1896.38" r="14.4" fill="#ec6a6e" stroke="#8a8a8a" stroke-width="1"/>
<circle cx="1144.44" cy="1896.38" r="14.4" fill="#e84e52" stroke="#8a8a8a" stroke-width="1"/>
<circle cx="1185.19" cy="1896.38" r="14.4" fill="#ec6e70" stroke="#8a8a8a" stroke-width="1"/>
<circle cx="1266.71" cy="1896.38" r="14.4" fill="#e4262a" stroke="#8a8a8a" stroke-width="1"/>
<circle cx="1307.47" cy="1896.38" r="14.4" fill="#e63c3e" stroke="#8a8a8a" stroke-width="1"/>
<circle cx="1388.98" cy="1896.38" r="14.4" fill="#e8484c" stroke="#8a8a8a" stroke-width="1"/>
<text transform="matrix(0.96502 -0.26219 0.26219 0.96502 1068.80 1403.32)" text-anchor="end" x="0.00" y="9.50" font-size="28.65" font-style="italic">Candida parapsilosis</text>
<text transform="matrix(0.96502 -0.26219 0.26219 0.96502 1068.80 1445.87)" text-anchor="end" x="0.00" y="9.50" font-size="28.65" font-style="italic">Fusarium proliferatum</text>
<text transform="matrix(0.96502 -0.26219 0.26219 0.96502 1068.80 1486.62)" text-anchor="end" x="0.00" y="9.50" font-size="28.65" font-style="italic">Cladosporium</text>
<text transform="matrix(0.96502 -0.26219 0.26219 0.96502 1068.80 1527.36)" text-anchor="end" x="0.00" y="9.50" font-size="28.65" font-style="italic">Ascomycota</text>
<text transform="matrix(0.96502 -0.26219 0.26219 0.96502 1068.80 1568.31)" text-anchor="end" x="0.00" y="9.50" font-size="28.65" font-style="italic">Cystobasidium</text>
<text transform="matrix(0.96502 -0.26219 0.26219 0.96502 1068.80 1609.55)" text-anchor="end" x="0.00" y="9.50" font-size="28.65" font-style="italic">Aspergillus proliferans</text>
<text transform="matrix(0.96502 -0.26219 0.26219 0.96502 1068.80 1648.10)" text-anchor="end" x="0.00" y="9.50" font-size="28.65" font-style="italic">Candida glabrata</text>
<text transform="matrix(0.96502 -0.26219 0.26219 0.96502 1068.80 1690.85)" text-anchor="end" x="0.00" y="9.50" font-size="28.65" font-style="italic">Aspergillus</text>
<text transform="matrix(0.96502 -0.26219 0.26219 0.96502 1068.80 1731.99)" text-anchor="end" x="0.00" y="9.50" font-size="28.65" font-style="italic">Penicillium polonicum</text>
<text transform="matrix(0.96502 -0.26219 0.26219 0.96502 1068.80 1773.34)" text-anchor="end" x="0.00" y="9.50" font-size="28.65" font-style="italic">Penicillium</text>
<text transform="matrix(0.96502 -0.26219 0.26219 0.96502 1068.80 1814.48)" text-anchor="end" x="0.00" y="9.50" font-size="28.65" font-style="italic">Aspergillus rugulosus</text>
<text transform="matrix(0.96502 -0.26219 0.26219 0.96502 1068.80 1854.33)" text-anchor="end" x="0.00" y="9.50" font-size="28.65" font-style="italic">Mucoromycota</text>
<text transform="matrix(0.96502 -0.26219 0.26219 0.96502 1068.80 1895.58)" text-anchor="end" x="0.00" y="9.50" font-size="28.65" font-style="italic">Aspergillus penicillioides</text>
<text transform="matrix(0.25882 -0.96593 0.96593 0.25882 1103.48 1926.00)" text-anchor="end" x="0.00" y="9.50" font-size="29.15">Alanine aminotransferase</text>
<text transform="matrix(0.25882 -0.96593 0.96593 0.25882 1144.24 1926.00)" text-anchor="end" x="0.00" y="9.50" font-size="29.15">TNF-α</text>
<text transform="matrix(0.25882 -0.96593 0.96593 0.25882 1184.99 1926.00)" text-anchor="end" x="0.00" y="9.50" font-size="29.15">Hemoglobin</text>
<text transform="matrix(0.25882 -0.96593 0.96593 0.25882 1225.75 1926.00)" text-anchor="end" x="0.00" y="9.50" font-size="29.15">IL-4</text>
<text transform="matrix(0.25882 -0.96593 0.96593 0.25882 1266.51 1926.00)" text-anchor="end" x="0.00" y="9.50" font-size="29.15">IL-10</text>
<text transform="matrix(0.25882 -0.96593 0.96593 0.25882 1307.27 1926.00)" text-anchor="end" x="0.00" y="9.50" font-size="29.15">IL-2</text>
<text transform="matrix(0.25882 -0.96593 0.96593 0.25882 1348.03 1926.00)" text-anchor="end" x="0.00" y="9.50" font-size="29.15">IL-6</text>
<text transform="matrix(0.25882 -0.96593 0.96593 0.25882 1388.78 1926.00)" text-anchor="end" x="0.00" y="9.50" font-size="29.15">Natural killer cell</text>
<text transform="matrix(0.25882 -0.96593 0.96593 0.25882 1429.54 1926.00)" text-anchor="end" x="0.00" y="9.50" font-size="29.15">Platelet</text>
<text transform="matrix(0.25882 -0.96593 0.96593 0.25882 1470.30 1926.00)" text-anchor="end" x="0.00" y="9.50" font-size="29.15">Aspartate aminotransferase</text>
<text transform="matrix(0.25882 -0.96593 0.96593 0.25882 1511.06 1926.00)" text-anchor="end" x="0.00" y="9.50" font-size="29.15">Creatine kinase</text>
<text transform="matrix(0.25882 -0.96593 0.96593 0.25882 1551.82 1926.00)" text-anchor="end" x="0.00" y="9.50" font-size="29.15">Complement 3</text>
<text transform="matrix(0.25882 -0.96593 0.96593 0.25882 1592.57 1926.00)" text-anchor="end" x="0.00" y="9.50" font-size="29.15">IgA</text>
<text transform="matrix(0.25882 -0.96593 0.96593 0.25882 1633.33 1926.00)" text-anchor="end" x="0.00" y="9.50" font-size="29.15">IgM</text>
<text transform="matrix(0.25882 -0.96593 0.96593 0.25882 1674.09 1926.00)" text-anchor="end" x="0.00" y="9.50" font-size="29.15">Procalcitonin</text>
<text transform="matrix(0.25882 -0.96593 0.96593 0.25882 1714.85 1926.00)" text-anchor="end" x="0.00" y="9.50" font-size="29.15">International normalized ratio</text>
<text transform="matrix(0.25882 -0.96593 0.96593 0.25882 1755.61 1926.00)" text-anchor="end" x="0.00" y="9.50" font-size="29.15">IgG</text>
<text transform="matrix(0.25882 -0.96593 0.96593 0.25882 1796.36 1926.00)" text-anchor="end" x="0.00" y="9.50" font-size="29.15">C-reactive protein</text>
<text transform="matrix(0.25882 -0.96593 0.96593 0.25882 1837.12 1926.00)" text-anchor="end" x="0.00" y="9.50" font-size="29.15">Neutrophil</text>
</g>
<text transform="translate(46.4 32.0) scale(1 1.065)" font-size="42.3" font-weight="bold">A</text>
<text transform="translate(997.0 31.9) scale(1 1.065)" font-size="42.3" font-weight="bold">B</text>
<text transform="translate(46.2 1368.7) scale(1 1.065)" font-size="42.3" font-weight="bold">C</text>
<text transform="translate(997.0 1368.7) scale(1 1.065)" font-size="42.3" font-weight="bold">D</text>
<g id="legend">
<defs><linearGradient id="cbar" x1="0" y1="0" x2="0" y2="1"><stop offset="0" stop-color="#e8141c"/><stop offset="0.228" stop-color="#f09496"/><stop offset="0.29" stop-color="#f09496"/><stop offset="0.392" stop-color="#fdfdfd"/><stop offset="0.607" stop-color="#fdfdfd"/><stop offset="0.686" stop-color="#8a8cc6"/><stop offset="0.777" stop-color="#8588c3"/><stop offset="0.853" stop-color="#4a55a8"/><stop offset="1" stop-color="#1f4a9f"/></linearGradient></defs>
<rect x="1903.1" y="44.7" width="25.7" height="382.4" fill="url(#cbar)"/>
<text x="1938.3" y="54.0" font-size="29">0.8</text>
<text x="1938.3" y="156.1" font-size="29">0.4</text>
<text x="1938.3" y="245.2" font-size="29">0</text>
<text x="1938.3" y="334.4" font-size="29">−0.4</text>
<text x="1938.3" y="428.6" font-size="29">−0.8</text>
</g>
</svg>
</body>
</html>
